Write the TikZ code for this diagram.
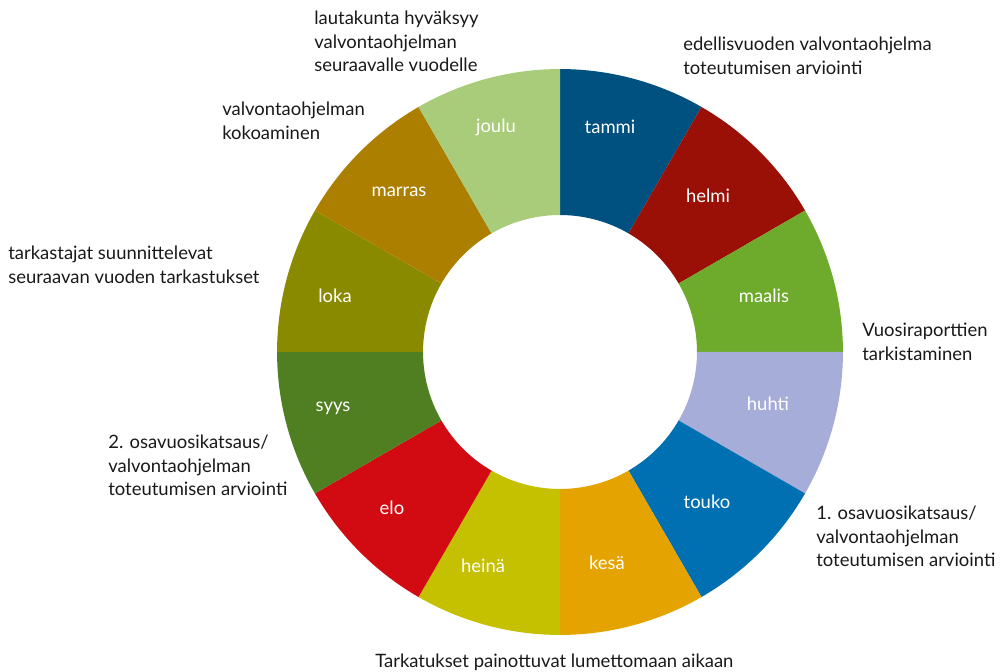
\documentclass[tikz,border=0pt]{standalone}
\usepackage{fontspec}
\setmainfont{Lato}
\usetikzlibrary{positioning}

\definecolor{tammiC}{RGB}{0,80,128}
\definecolor{helmiC}{RGB}{155,16,6}
\definecolor{maalisC}{RGB}{110,170,44}
\definecolor{huhtiC}{RGB}{166,173,216}
\definecolor{toukoC}{RGB}{0,112,178}
\definecolor{kesaC}{RGB}{229,163,0}
\definecolor{heinaC}{RGB}{197,192,0}
\definecolor{eloC}{RGB}{210,10,17}
\definecolor{syysC}{RGB}{80,127,34}
\definecolor{lokaC}{RGB}{138,138,0}
\definecolor{marrasC}{RGB}{173,127,0}
\definecolor{jouluC}{RGB}{168,204,122}

\begin{document}
\begin{tikzpicture}[
  x=0.02cm, y=0.02cm,
  every node/.style={font=\fontsize{10.5}{13.3}\selectfont},
  month/.style={text=white, inner sep=0pt},
  note/.style={anchor=north west, inner sep=0pt, align=left, text=black!90},
]
  \useasboundingbox (0,0) rectangle (1001,672);

  % ring of months, clockwise from the top
  \foreach \a/\c in {90/tammiC, 60/helmiC, 30/maalisC, 0/huhtiC,
                     -30/toukoC, -60/kesaC, -90/heinaC, -120/eloC,
                     -150/syysC, -180/lokaC, -210/marrasC, -240/jouluC}
    \fill[\c, shift={(560,320)}] (\a:2.74cm) -- (\a:5.66cm)
      arc[start angle=\a, end angle=\a-30, radius=5.66cm]
      -- (\a-30:2.74cm)
      arc[start angle=\a-30, end angle=\a, radius=2.74cm] -- cycle;

  \node[month] (tammi) at (610,545) {tammi};
  \node[month] (helmi) at (708,476) {helmi};
  \node[month] (maalis) at (764,376) {maalis};
  \node[month] (huhti) at (768,268) {huhti};
  \node[month] (touko) at (707,170) {touko};
  \node[month] (kesa) at (607,109) {kesä};
  \node[month] (heina) at (483,106) {heinä};
  \node[month] (elo) at (392,164) {elo};
  \node[month] (syys) at (333,264) {syys};
  \node[month] (loka) at (335,376) {loka};
  \node[month] (marras) at (399,480) {marras};
  \node[month] (joulu) at (496,545) {joulu};

  % notes round the ring
  \node[note] (hyvaksyy) at (314,661) {lautakunta hyväksyy\\valvontaohjelman\\seuraavalle vuodelle};
  \node[note] (arvio0) at (683,635) {edellisvuoden valvontaohjelma\\toteutumisen arviointi};
  \node[note] (kokoaminen) at (222,570) {valvontaohjelman\\kokoaminen};
  \node[note] (suunnittelu) at (8,426) {tarkastajat suunnittelevat\\seuraavan vuoden tarkastukset};
  \node[note] (vuosi) at (862,349) {Vuosiraporttien\\tarkistaminen};
  \node[note] (osa2) at (108,237) {2. osavuosikatsaus/\\valvontaohjelman\\toteutumisen arviointi};
  \node[note] (osa1) at (816,166) {1. osavuosikatsaus/\\valvontaohjelman\\toteutumisen arviointi};
  \node[note] (kesakausi) at (375,18) {Tarkatukset painottuvat lumettomaan aikaan};
\end{tikzpicture}
\end{document}
